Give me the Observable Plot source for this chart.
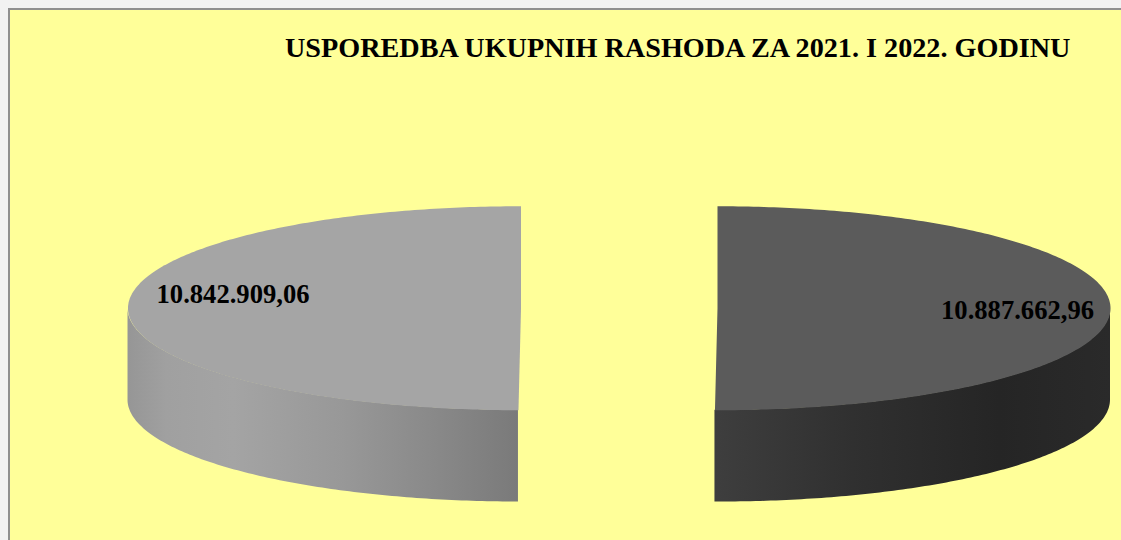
<!DOCTYPE html>
<html>
<head>
<meta charset="utf-8">
<script src="https://cdn.jsdelivr.net/npm/d3@7"></script>
<script src="https://cdn.jsdelivr.net/npm/@observablehq/plot@0.6"></script>
<style>
  html, body { margin: 0; padding: 0; width: 1121px; height: 540px; overflow: hidden; background: #f2f2f2; }
  #panel { position: absolute; left: 8px; top: 8px; width: 1113px; height: 532px; box-sizing: border-box;
           background: #ffff99; border-top: 2px solid #8f8f8f; border-left: 2px solid #8f8f8f; }
  #title { position: absolute; left: 285px; top: 32.5px; white-space: nowrap; color: #000;
           font: bold 28.2px "Liberation Serif", serif; line-height: 30px; }
  #chart { position: absolute; left: 0; top: 0; }
  #chart svg { display: block; background: transparent; }
</style>
</head>
<body>
<div id="panel"></div>
<div id="chart"></div>
<div id="title">USPOREDBA UKUPNIH RASHODA ZA 2021. I 2022. GODINU</div>
<script>
// Expenditure totals, in drawing order clockwise from the top of the pie.
const sliceValues = [10887662.96, 10842909.06];
const sliceTop = ["#5b5b5b", "#a5a5a5"];

// Pie geometry, in units of the pie radius.
const explode = 0.25;
const rimDepth = 0.9;

// Label anchors in the same pie units.
const labelAnchors = [{u: 1.0134, v: -0.025}, {u: -0.9828, v: 0.135}];

const money = d3.formatLocale({decimal: ",", thousands: ".", grouping: [3], currency: ["", ""]}).format(",.2f");

const arcs = d3.pie().sort(null)(sliceValues);

// Samples an arc of the unit ellipse, angles measured clockwise from the top.
function arcPoints(a0, a1, offset) {
  const n = 240;
  return d3.range(n + 1).map(i => {
    const a = a0 + (a1 - a0) * i / n;
    return {a, u: offset + Math.sin(a), v: Math.cos(a)};
  });
}

const slices = arcs.map((arc, i) => {
  const offset = i === 0 ? explode : -explode;
  const pts = arcPoints(arc.startAngle, arc.endAngle, offset);
  const outline = [...pts, {u: offset, v: 0}, pts[0]];
  // Only the front half of the side wall faces the viewer.
  const wall = pts.filter(p => p.v <= 0.002).map(p => ({u: p.u, top: p.v, bottom: p.v - rimDepth}));
  wall.sort((p, q) => p.u - q.u);
  return {outline, wall};
});

const labels = arcs.map((arc, i) => ({...labelAnchors[i], text: money(arc.value)}));

// Horizontal shading of the two side walls.
const gradients = () => {
  const defs = d3.create("svg:defs");
  const stops = [
    [[0, "#3e3e3e"], [0.35, "#303030"], [0.72, "#252525"], [1, "#2a2a2a"]],
    [[0, "#969696"], [0.1, "#a0a0a0"], [0.27, "#a4a4a4"], [0.55, "#989898"], [0.8, "#888888"], [1, "#7a7a7a"]]
  ];
  stops.forEach((s, i) => {
    const g = defs.append("linearGradient").attr("id", "wall" + i)
      .attr("x1", 0).attr("x2", 1).attr("y1", 0).attr("y2", 0);
    s.forEach(([o, c]) => g.append("stop").attr("offset", o).attr("stop-color", c));
  });
  return defs.node();
};

const textStyle = {fontFamily: "Liberation Serif, serif", fontWeight: "bold", fontSize: 26.6, fill: "#000"};

const chart = Plot.plot({
  width: 1121,
  height: 540,
  margin: 0,
  style: {background: "transparent"},
  x: {domain: [-1, 1], range: [225.75, 1011.75], axis: null},
  y: {domain: [-1, 1], range: [409.75, 205.75], axis: null},
  marks: [
    gradients,
    ...slices.flatMap((s, i) => [
      Plot.areaY(s.wall, {x: "u", y1: "top", y2: "bottom", fill: `url(#wall${i})`}),
      Plot.line(s.outline, {x: "u", y: "v", stroke: null, fill: sliceTop[i]})
    ]),
    Plot.text(labels, {x: "u", y: "v", text: "text", ...textStyle})
  ]
});
document.getElementById("chart").append(chart);
</script>
</body>
</html>
